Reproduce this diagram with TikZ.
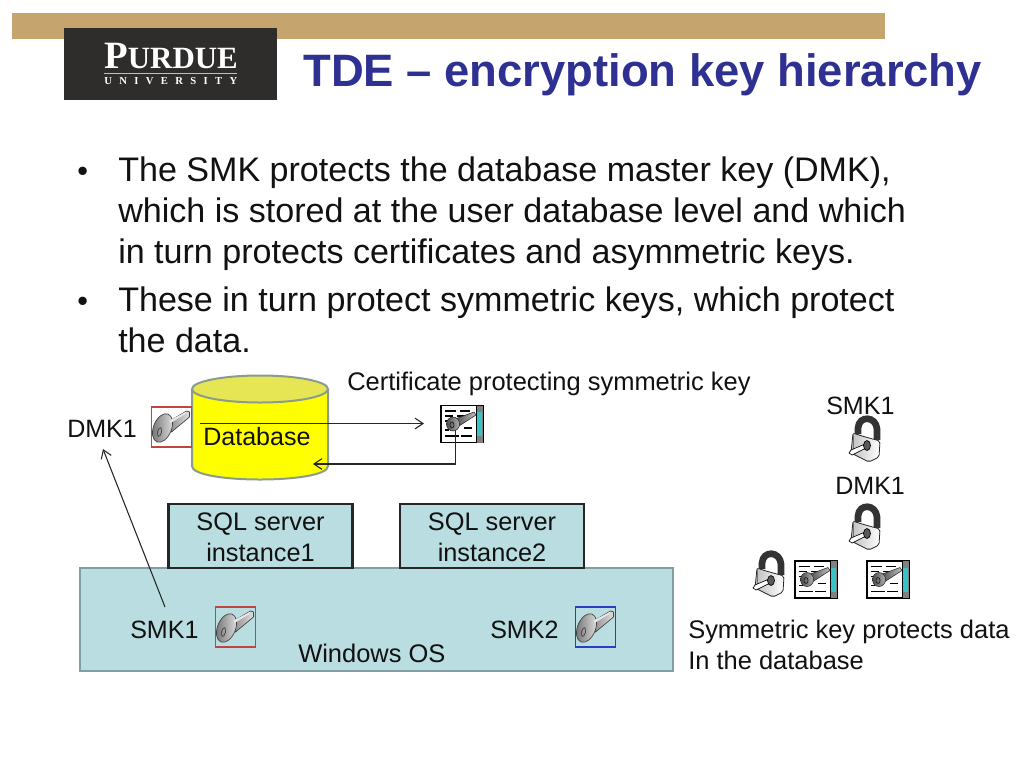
\documentclass[tikz,border=0pt]{standalone}
\usepackage{fontspec}
\setmainfont{Liberation Sans}
\newfontfamily\logofont{Liberation Serif}
\usetikzlibrary{arrows.meta}
\definecolor{tanbar}{HTML}{C5A46D}
\definecolor{logobg}{HTML}{2F2C2C}
\definecolor{titleblue}{HTML}{2E3192}
\definecolor{panel}{HTML}{B9DDE0}
\definecolor{panelline}{HTML}{7F9FA3}
\definecolor{dbyellow}{HTML}{FFFF00}
\definecolor{dbtop}{HTML}{E6E655}
\definecolor{dbline}{HTML}{8A9C8C}
\definecolor{keygray}{HTML}{CFCFCF}
\definecolor{certteal}{HTML}{35C4C8}
\definecolor{txt}{HTML}{111111}
\definecolor{keyred}{HTML}{C0453F}
\definecolor{keyblue}{HTML}{2A3FC0}
\tikzset{
  x=0.75pt,y=-0.75pt,
  bodytext/.style={anchor=base west,inner sep=0pt,text=txt,font=\fontsize{25.55pt}{30pt}\selectfont},
  bullettext/.style={anchor=base west,inner sep=0pt,text=txt,font=\fontsize{23pt}{28pt}\selectfont},
  label/.style={anchor=base west,inner sep=0pt,text=txt,font=\fontsize{19.1pt}{22pt}\selectfont},
  shortlabel/.style={label,font=\fontsize{18.8pt}{22pt}\selectfont},
  keybox/.style={draw=#1,line width=0.8pt,minimum width=30.5pt,minimum height=30pt,inner sep=0pt},
  sqlbox/.style={draw=black!85,line width=1.7pt,fill=panel,minimum width=138pt,minimum height=48pt,inner sep=0pt,align=center,text=txt,font=\fontsize{19pt}{23.25pt}\selectfont},
  conn/.style={line width=0.8pt,draw=black!85,-{Straight Barb[length=6pt,width=8pt]}},
  keyicon/.pic={
    \path[left color=black!45,right color=black!12,draw=black!75,line width=0.5pt] (-2,-6) -- (15,-16) -- (18,-15) -- (18,-10) -- (0,5) -- cycle;
    \path[left color=black!55,right color=black!12,draw=black!75,line width=0.5pt,rotate around={-22:(-9,1)}] (-9,1) ellipse (9 and 15);
    \draw[black!75,line width=0.5pt,rotate around={-15:(-12,5)}] (-12,5) ellipse (2 and 4.5);
    \fill[black!10] (-2,-6.5) -- (15,-15.5) -- (14,-13) -- (-1,-4) -- cycle;
  },
  certicon/.pic={
    \fill[white,draw=black,line width=1.1pt] (-21,-18.5) rectangle (21,18.5);
    \fill[black!50] (14,-18.5) rectangle (21,18.5);
    \fill[certteal] (15,-12) rectangle (20,12);
    \draw[black,line width=0.7pt] (14,-18.5) -- (14,18.5);
    \draw[black,line width=0.8pt] (-17,-13) -- (-6,-13) (-2,-13) -- (8,-13)
      (-17,-8) -- (-9,-8) (-5,-8) -- (3,-8) (-17,-3) -- (-10,-3) (-17,6) -- (-13,6)
      (-17,12) -- (-3,12) (-1,12) -- (10,12) (2,4) -- (10,4);
    \path[left color=black!70,right color=black!25,draw=black!85,line width=0.4pt] (-7,-5) -- (12,-12) -- (14,-9) -- (-3,2) -- cycle;
    \path[left color=black!70,right color=black!30,draw=black!85,line width=0.4pt] (-9,0) ellipse (6.5 and 7);
    \draw[black!90,line width=0.5pt] (-10,1) ellipse (2 and 3);
  },
  lockicon/.pic={
    \draw[black!80,line width=5pt,line cap=butt] (-7,-6) -- (-7,-12) .. controls (-6,-25) and (11,-24) .. (12,-11) -- (12,0);
    \path[left color=black!25,right color=white,draw=black!85,line width=0.6pt,rounded corners=1.5pt] (-12,-7) -- (-3,-4) -- (15,1) -- (14,17) -- (4,22) -- (-14,13) -- cycle;
    \draw[black!55,line width=0.4pt] (-12,-7) -- (-12,12);
    \fill[white,draw=black,line width=0.5pt] (0,4) -- (-14,10) -- (-16,13) -- (-13,15) -- (1,8) -- cycle;
    \fill[black!65,draw=black,line width=0.5pt] (2,5.5) ellipse (3.5 and 5);
  },
}
\begin{document}
\begin{tikzpicture}
\useasboundingbox (0,0) rectangle (1024,768);
\fill[white] (0,0) rectangle (1024,768);
% header
\fill[tanbar] (12,13) rectangle (885,39);
\node[fill=logobg,minimum width=159.75pt,minimum height=54pt,inner sep=0pt] (logo) at (170.5,64) {};
\node[anchor=base west,inner sep=0pt,text=white,font=\logofont\bfseries] (purdue) at (104,68)
  {\fontsize{29pt}{29pt}\selectfont P\fontsize{23.2pt}{24pt}\selectfont URDUE};
\draw[white!75!black,line width=0.6pt] (104,73) -- (237,73);
\node[anchor=base west,inner sep=0pt,text=white,font=\logofont\bfseries\fontsize{8pt}{9pt}\selectfont] (univ) at (104,84)
  {\makebox[99.75pt][s]{U\hfill N\hfill I\hfill V\hfill E\hfill R\hfill S\hfill I\hfill T\hfill Y}};
\node[anchor=base west,inner sep=0pt,text=titleblue,font=\bfseries\fontsize{34.05pt}{38pt}\selectfont] (title) at (303,86) {TDE – encryption key hierarchy};
% bullets
\node[bullettext] (b1) at (77,181) {•};
\node[bodytext] (l1) at (118,181.5) {The SMK protects the database master key (DMK),};
\node[bodytext] (l2) at (118,222.5) {which is stored at the user database level and which};
\node[bodytext] (l3) at (118,263.5) {in turn protects certificates and asymmetric keys.};
\node[bullettext] (b2) at (77,311) {•};
\node[bodytext] (l4) at (118,311.5) {These in turn protect symmetric keys, which protect};
\node[bodytext] (l5) at (118,352.5) {the data.};
% windows panel
\node[draw=panelline,fill=panel,line width=1.5pt,minimum width=444.75pt,minimum height=77pt,inner sep=0pt] (win) at (376.5,619.5) {};
\node[sqlbox] (sql1) at (260.5,536) {\rule{0pt}{15.5pt}SQL server\\instance1};
\node[sqlbox] (sql2) at (492,536) {\rule{0pt}{15.5pt}SQL server\\instance2};
\node[label] (winos) at (298,662) {Windows OS};
% database
\path[fill=dbyellow,draw=dbline,line width=1.5pt] (192,389) -- (192,466) .. controls (192,484) and (328,484) .. (328,466) -- (328,389);
\path[fill=dbtop,draw=dbline,line width=1.5pt] (260,389) ellipse (68 and 13.5);
\node[shortlabel] (dblabel) at (203,445) {Database};
% key DMK1
\node[keybox=keyred,fill=white] (dmkkey) at (171.5,427) {};
\pic at (dmkkey.center) {keyicon};
\node[shortlabel] (dmk1) at (67,437) {DMK1};
% certificate
\node[label] (certlabel) at (347,390) {Certificate protecting symmetric key};
\node[minimum width=31.5pt,minimum height=27pt,inner sep=0pt] (cert) at (462,424) {};
\pic at (cert.center) {certicon};
% connectors
\coordinate (dbout) at (200,423.5);
\coordinate (certin) at (424,423.5);
\coordinate (certout) at (455.5,430);
\coordinate (dbin) at (313,464);
\draw[conn] (dbout) -- (certin);
\draw[conn] (certout) |- (dbin);
% SMK
\node[keybox=keyred] (smkkey1) at (235.5,627) {};
\pic at (smkkey1.center) {keyicon};
\node[keybox=keyblue] (smkkey2) at (595.5,627) {};
\pic at (smkkey2.center) {keyicon};
\node[shortlabel] (smk1) at (130,638) {SMK1};
\node[shortlabel] (smk2) at (490,638) {SMK2};
\coordinate (smkarrow) at (165,607);
\coordinate (dmkarrow) at (103,449);
\draw[conn] (smkarrow) -- (dmkarrow);
% right column
\node[shortlabel] (rsmk) at (826,414) {SMK1};
\pic at (865,440) {lockicon};
\node[shortlabel] (rdmk) at (835,494) {DMK1};
\pic at (865,528) {lockicon};
\pic at (769,575) {lockicon};
\pic at (816,579.5) {certicon};
\pic at (888,579.5) {certicon};
\node[label] (sym1) at (688,638) {Symmetric key protects data};
\node[label] (sym2) at (688,669) {In the database};
\end{tikzpicture}
\end{document}
